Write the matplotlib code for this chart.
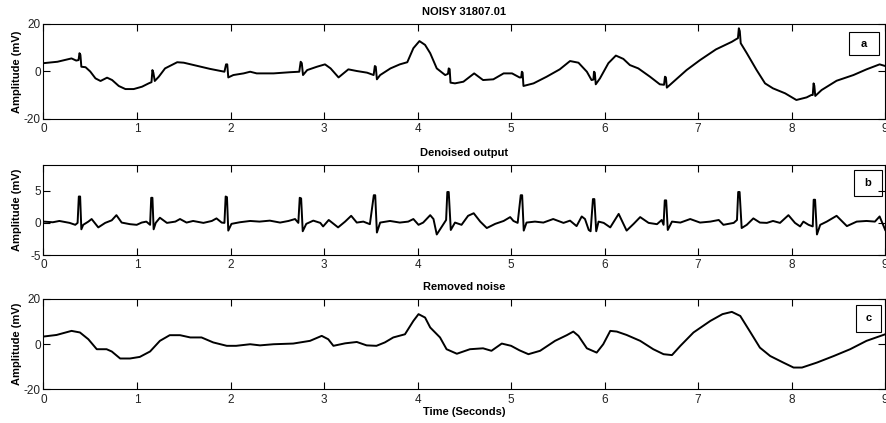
import numpy as np
import matplotlib
matplotlib.use("Agg")
import matplotlib.pyplot as plt
from matplotlib.patches import Rectangle

plt.rcParams['font.family'] = ['Liberation Sans', 'DejaVu Sans']
plt.rcParams['axes.unicode_minus'] = False

# noisy ECG (panel a)
t_noisy = [0.00, 0.15, 0.30, 0.35, 0.375, 0.385, 0.395, 0.405, 0.45, 0.50, 0.556, 0.61, 0.68,
           0.734, 0.805, 0.876, 0.965, 1.054, 1.125, 1.155, 1.165, 1.175, 1.19, 1.233, 1.30,
           1.43, 1.50, 1.64, 1.78, 1.935, 1.952, 1.965, 1.976, 2.03, 2.14, 2.21, 2.28, 2.46,
           2.64, 2.735, 2.75, 2.762, 2.775, 2.82, 2.924, 3.01, 3.07, 3.155, 3.26, 3.35, 3.46,
           3.53, 3.543, 3.553, 3.565, 3.60, 3.71, 3.81, 3.89, 3.955, 4.02, 4.08, 4.135, 4.205,
           4.295, 4.325, 4.333, 4.343, 4.352, 4.40, 4.49, 4.605, 4.70, 4.81, 4.92, 5.01, 5.09,
           5.108, 5.115, 5.123, 5.132, 5.24, 5.38, 5.52, 5.63, 5.72, 5.81, 5.86, 5.88, 5.886,
           5.895, 5.905, 5.95, 6.04, 6.12, 6.20, 6.27, 6.36, 6.485, 6.59, 6.635, 6.645, 6.655,
           6.665, 6.716, 6.876, 7.02, 7.19, 7.36, 7.41, 7.425, 7.435, 7.445, 7.455, 7.52, 7.625,
           7.715, 7.80, 7.93, 8.05, 8.16, 8.21, 8.225, 8.234, 8.242, 8.252, 8.32, 8.48, 8.66,
           8.80, 8.94, 9.00]
v_noisy = [3.5, 4.1, 5.5, 4.6, 4.8, 7.7, 7.0, 2.0, 1.8, 0.0, -2.9, -4.0, -2.6,
           -3.6, -6.1, -7.4, -7.4, -6.4, -5.0, -4.5, 0.6, -0.5, -4.0, -2.2, 1.3,
           3.9, 3.7, 2.4, 1.1, -0.1, 3.0, 3.0, -2.5, -1.5, -0.8, -0.1, -0.8, -0.8,
           -0.3, -0.1, 4.1, 3.5, -1.5, 0.6, 2.0, 3.0, 1.3, -2.5, 0.9, 0.2, -0.5,
           -1.5, 2.3, 2.0, -3.3, -1.5, 1.3, 3.0, 3.9, 9.8, 12.8, 11.2, 7.7, 1.3,
           -1.5, -1.0, 1.3, 1.0, -4.7, -5.0, -4.3, -0.8, -3.6, -3.3, -0.8, -0.8, -2.5,
           -2.5, -0.1, -0.5, -6.1, -5.0, -2.2, 0.9, 4.4, 3.7, -0.1, -3.6, -3.4, -0.1,
           -0.5, -5.4, -2.9, 3.5, 6.7, 5.3, 2.7, 1.3, -2.2, -5.4, -5.6, -2.2, -2.5,
           -6.8, -5.0, 0.6, 4.8, 9.3, 12.5, 13.7, 14.0, 18.2, 17.0, 11.9, 7.7, 0.6,
           -5.0, -7.1, -9.2, -12.0, -10.9, -9.9, -9.9, -5.0, -6.0, -10.3, -7.8, -3.9, -1.5,
           0.9, 3.0, 2.3]

# denoised ECG (panel b)
t_clean = [0.00, 0.10, 0.17, 0.28, 0.34, 0.365, 0.378, 0.392, 0.405, 0.425, 0.48, 0.515, 0.586,
           0.66, 0.73, 0.78, 0.836, 0.925, 0.997, 1.05, 1.10, 1.14, 1.152, 1.165, 1.178, 1.20,
           1.245, 1.32, 1.41, 1.46, 1.53, 1.60, 1.71, 1.80, 1.85, 1.905, 1.935, 1.948, 1.962,
           1.976, 2.01, 2.10, 2.21, 2.31, 2.42, 2.53, 2.62, 2.69, 2.725, 2.740, 2.755, 2.772,
           2.81, 2.885, 2.96, 2.99, 3.05, 3.15, 3.225, 3.29, 3.35, 3.42, 3.49, 3.532, 3.547,
           3.565, 3.60, 3.705, 3.81, 3.90, 3.955, 4.01, 4.06, 4.135, 4.17, 4.205, 4.26, 4.305,
           4.318, 4.333, 4.355, 4.40, 4.47, 4.54, 4.60, 4.67, 4.74, 4.83, 4.92, 4.99, 5.025,
           5.07, 5.103, 5.118, 5.135, 5.165, 5.255, 5.345, 5.45, 5.56, 5.63, 5.70, 5.755, 5.79,
           5.83, 5.85, 5.875, 5.890, 5.91, 5.935, 5.99, 6.06, 6.15, 6.235, 6.31, 6.38, 6.47,
           6.56, 6.61, 6.63, 6.643, 6.658, 6.675, 6.72, 6.81, 6.915, 7.02, 7.13, 7.22, 7.27,
           7.38, 7.415, 7.428, 7.443, 7.465, 7.52, 7.59, 7.66, 7.735, 7.80, 7.875, 7.965, 8.035,
           8.09, 8.125, 8.18, 8.225, 8.235, 8.25, 8.27, 8.305, 8.375, 8.48, 8.59, 8.695, 8.80,
           8.89, 8.94, 9.00]
v_clean = [0.2, 0.1, 0.3, 0.0, -0.3, 0.0, 4.1, 4.1, -1.0, -0.3, 0.2, 0.6, -0.7,
           0.0, 0.4, 1.2, 0.05, -0.2, -0.3, 0.05, 0.2, -0.3, 3.9, 3.9, -1.0, 0.0,
           0.8, 0.0, 0.2, 0.6, 0.05, 0.3, 0.0, 0.3, 0.7, 0.05, 0.0, 4.1, 4.0,
           -1.2, -0.15, 0.1, 0.3, 0.2, 0.35, 0.05, 0.3, 0.6, 0.0, 3.9, 3.8, -1.3,
           -0.15, 0.35, 0.0, -0.55, 0.45, -0.7, 0.2, 1.1, 0.05, 0.2, -0.2, 4.3, 4.3,
           -1.5, 0.05, 0.3, 0.05, 0.2, 0.6, -0.3, 0.05, 1.2, 0.6, -1.8, -0.55, 0.45,
           4.8, 4.8, -1.1, 0.05, -0.3, 1.1, 1.5, 0.2, -0.8, -0.15, 0.3, 0.9, 0.3,
           0.0, 4.3, 4.3, -1.2, 0.05, 0.2, 0.05, 0.6, 0.0, 0.35, -0.5, 1.0, 0.6,
           -1.1, -1.3, 3.7, 3.7, -1.3, 0.2, 0.0, -0.7, 1.4, -1.2, -0.15, 0.9, 0.0,
           -0.2, 0.45, -0.3, 3.5, 3.5, -1.1, 0.2, 0.05, 0.6, 0.05, 0.2, 0.45, -0.3,
           0.0, 0.45, 4.8, 4.8, -0.8, -0.3, 0.7, 0.05, 0.0, 0.3, 0.0, 1.2, 0.0,
           -0.55, 0.2, -0.3, -0.55, 3.6, 3.6, -1.8, -0.3, 0.2, 1.1, -0.5, 0.2, 0.3,
           0.2, 1.0, -1.1]

# removed noise (panel c)
t_noise = [0.00, 0.14, 0.30, 0.39, 0.48, 0.57, 0.675, 0.73, 0.82, 0.925, 1.03, 1.14, 1.245,
           1.35, 1.46, 1.57, 1.69, 1.815, 1.96, 2.06, 2.21, 2.315, 2.46, 2.67, 2.85, 2.975,
           3.045, 3.10, 3.225, 3.35, 3.455, 3.56, 3.65, 3.74, 3.865, 3.955, 4.01, 4.08, 4.135,
           4.24, 4.31, 4.42, 4.56, 4.70, 4.79, 4.90, 5.00, 5.09, 5.185, 5.31, 5.47, 5.595,
           5.665, 5.72, 5.81, 5.915, 5.985, 6.06, 6.13, 6.235, 6.38, 6.52, 6.63, 6.72, 6.81,
           6.95, 7.13, 7.26, 7.36, 7.45, 7.56, 7.66, 7.77, 7.91, 8.02, 8.11, 8.27, 8.45,
           8.625, 8.80, 9.00]
v_noise = [3.4, 4.1, 5.9, 5.2, 2.2, -2.2, -2.2, -3.2, -6.3, -6.3, -5.6, -3.2, 1.5,
           4.0, 4.0, 3.0, 3.0, 0.8, -0.7, -0.7, 0.0, -0.5, 0.0, 0.3, 1.5, 3.7,
           2.2, -0.7, 0.4, 1.0, -0.5, -0.7, 0.8, 3.0, 4.4, 10.3, 13.3, 11.8, 7.4,
           3.0, -2.2, -4.2, -2.2, -1.8, -2.9, 0.3, -0.7, -2.7, -4.4, -2.9, 1.5, 4.0,
           5.6, 3.7, -1.8, -3.7, 0.0, 5.9, 5.6, 4.1, 1.5, -2.2, -4.4, -4.8, -0.7,
           5.2, 10.3, 13.3, 14.3, 12.5, 5.2, -1.5, -5.2, -8.1, -10.3, -10.3, -8.1, -5.2,
           -2.2, 1.5, 4.4]

titles = ['NOISY 31807.01', 'Denoised output', 'Removed noise']
letters = ['a', 'b', 'c']
ylims = [(-20, 20), (-5, 9), (-20, 20)]
yticks = [[-20, 0, 20], [-5, 0, 5], [-20, 0, 20]]

fig = plt.figure(figsize=(8.87, 4.23), dpi=100)
rects = [[0.049, 0.7187, 0.949, 0.2246],
         [0.049, 0.397, 0.949, 0.213],
         [0.049, 0.0792, 0.949, 0.214]]
boxes = [(0.957, 0.674, 0.0356, 0.239),
         (0.963, 0.656, 0.033, 0.289),
         (0.9647, 0.639, 0.0305, 0.295)]
series = [(t_noisy, v_noisy), (t_clean, v_clean), (t_noise, v_noise)]

for k in range(3):
    ax = fig.add_axes(rects[k])
    t, v = series[k]
    ax.plot(t, v, 'k', lw=1.4)
    ax.set_xlim(0, 9)
    ax.set_ylim(*ylims[k])
    ax.set_xticks(range(10))
    ax.set_yticks(yticks[k])
    ax.tick_params(direction='in', top=True, right=True, length=5, width=0.8,
                   labelsize=8.5, pad=3, labelcolor='#222222')
    ax.tick_params(axis='y', pad=2)
    for s in ax.spines.values():
        s.set_linewidth(0.8)
    ax.set_title(titles[k], fontsize=8, fontweight='bold', pad=6.5)
    ax.set_ylabel('Amplitude (mV)', fontsize=8, fontweight='bold')
    ax.yaxis.set_label_coords(-0.025, 0.5)
    bx, by, bw, bh = boxes[k]
    ax.add_patch(Rectangle((bx, by), bw, bh, transform=ax.transAxes, fill=False,
                           ec='k', lw=0.8))
    ax.text(bx + bw / 2, by + bh / 2, letters[k], transform=ax.transAxes,
            ha='center', va='center', fontsize=8, fontweight='bold')
    if k == 2:
        ax.set_xlabel('Time (Seconds)', fontsize=8, fontweight='bold', labelpad=1)

fig.savefig('out.png', dpi=100)
